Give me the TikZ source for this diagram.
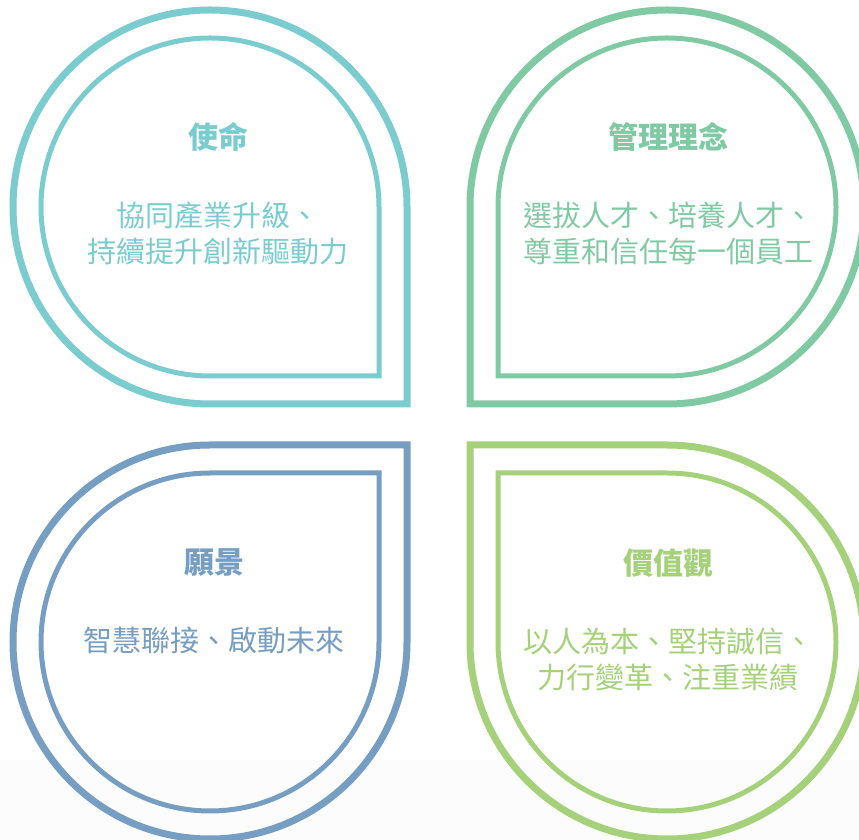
\documentclass[tikz,border=0pt]{standalone}
\usepackage{fontspec}
\newfontfamily\cjk{Noto Sans CJK TC}
\definecolor{mission}{RGB}{122,204,207}
\definecolor{idea}{RGB}{128,202,163}
\definecolor{vision}{RGB}{118,157,194}
\definecolor{value}{RGB}{164,209,122}
\begin{document}
\begin{tikzpicture}
  [x=1pt,y=1pt,every node/.style={align=center},
   heading/.style={font=\cjk\bfseries\fontsize{30}{36}\selectfont},
   motto/.style={font=\cjk\fontsize{29}{36}\selectfont},
   rim/.style={line width=7pt},lining/.style={line width=5pt}]
  \useasboundingbox (0,0) rectangle (859,840);
  \clip (0,0) rectangle (859,840);
  \fill[black!1] (0,0) rectangle (859,80);

  % four drops, square corner towards the middle
  \foreach \cx/\cy/\s/\col in {210/633/0/mission,667/633/270/idea,210/198/90/vision,667/198/180/value}
  {
    \draw[\col,rim] ([shift={(\s:197)}]\cx,\cy) arc[start angle=\s,delta angle=270,radius=197] -- ++(\s:197) -- cycle;
    \draw[\col,lining] ([shift={(\s:169)}]\cx,\cy) arc[start angle=\s,delta angle=270,radius=169] -- ++(\s:169) -- cycle;
  }

  \node[heading,mission] (mh) at (218,703) {使命};
  \node[motto,mission]   (mt) at (218,607) {協同產業升級、\\持續提升創新驅動力};
  \node[heading,idea]    (ih) at (668,703) {管理理念};
  \node[motto,idea]      (it) at (668,607) {選拔人才、培養人才、\\尊重和信任每一個員工};
  \node[heading,vision]  (vh) at (214,277) {願景};
  \node[motto,vision]    (vt) at (214,199) {智慧聯接、啟動未來};
  \node[heading,value]   (wh) at (668,277) {價值觀};
  \node[motto,value]     (wt) at (668,180) {以人為本、堅持誠信、\\力行變革、注重業績};

\end{tikzpicture}
\end{document}
